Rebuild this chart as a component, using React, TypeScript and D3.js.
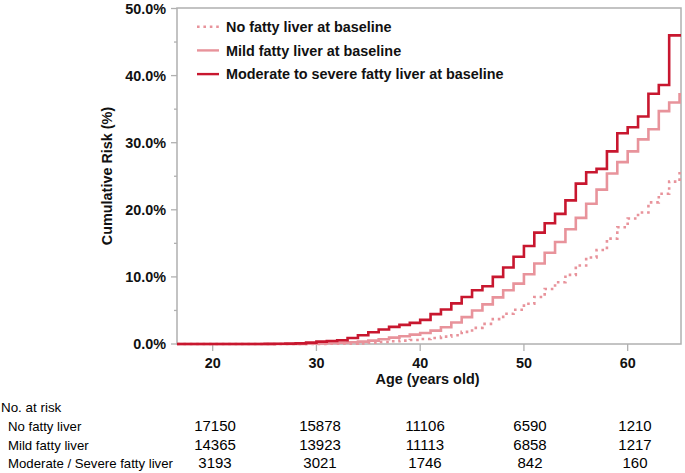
import React from "react";
import * as d3 from "d3";

const ages = [17,18,19,20,21,22,23,24,25,26,27,28,29,30,31,32,33,34,35,36,37,38,39,40,41,42,43,44,45,46,47,48,49,50,51,52,53,54,55,56,57,58,59,60,61,62,63,64,65];

const noFatty = [0,0,0,0,0,0,0,0,0,0,0,0,0,0.02,0.03,0.04,0.05,0.1,0.2,0.3,0.4,0.5,0.6,0.75,0.9,1.1,1.3,1.8,2.4,3.0,3.7,4.5,5.1,6.0,7.0,8.2,9.2,10.3,11.7,12.9,14.0,15.7,17.4,18.7,19.6,21.1,22.4,24.2,25.7];

const mildFatty = [0,0,0,0,0,0,0,0,0,0,0,0.02,0.05,0.1,0.15,0.2,0.25,0.35,0.5,0.7,0.95,1.15,1.4,1.65,2.0,2.5,3.2,4.0,5.0,5.9,6.95,8.0,9.0,10.4,12.0,13.6,15.2,17.1,18.8,20.9,23.0,25.4,27.1,28.7,30.5,32.0,34.7,36.0,37.2];

const modSevereFatty = [0,0,0,0,0,0,0,0,0.02,0.03,0.05,0.1,0.2,0.35,0.45,0.55,0.9,1.3,1.75,2.15,2.55,2.85,3.15,3.6,4.45,5.15,6.05,7.0,8.0,8.6,10.0,11.4,13.0,14.6,16.6,18.0,19.4,21.4,23.9,25.6,26.1,28.7,31.4,32.3,33.9,37.3,38.6,46.0,46.0];

const yTicks = [0, 10, 20, 30, 40, 50];
const yMinorTicks = [5, 15, 25, 35, 45];
const xTicks = [20, 30, 40, 50, 60];

const legendLabels = [
  "No fatty liver at baseline",
  "Mild fatty liver at baseline",
  "Moderate to severe fatty liver at baseline",
];

const riskTitle = "No. at risk";
const riskLabels = ["No fatty liver", "Mild fatty liver", "Moderate / Severe fatty liver"];
const riskNoFatty = [17150, 15878, 11106, 6590, 1210];
const riskMild = [14365, 13923, 11113, 6858, 1217];
const riskModSevere = [3193, 3021, 1746, 842, 160];

const W = 685;
const H = 473;
const left = 177, right = 681, top = 8.5, bottom = 344;

const DARK = "#c8172f";
const PINK = "#e8939b";
const AXIS = "#b0b0b0";
const BOLD = "'Liberation Sans', Arial, Helvetica, sans-serif";

export default function App() {
  const x = d3.scaleLinear().domain([16.56, 65.14]).range([left, right]);
  const y = d3.scaleLinear().domain([0, 50]).range([bottom, top]);

  const mk = (vals: number[]) => {
    const pts: [number, number][] = [[x.domain()[0], vals[0]]];
    ages.forEach((a, i) => pts.push([a, vals[i]]));
    pts.push([x.domain()[1], vals[vals.length - 1]]);
    return d3
      .line<[number, number]>()
      .x((d) => x(d[0]))
      .y((d) => y(d[1]))
      .curve(d3.curveStepAfter)(pts) as string;
  };

  const series = [
    { vals: noFatty, color: PINK, dash: "2.6,3.8", width: 2.6 },
    { vals: mildFatty, color: PINK, dash: undefined, width: 2.6 },
    { vals: modSevereFatty, color: DARK, dash: undefined, width: 2.6 },
  ];

  const col = d3.scalePoint<number>().domain([0, 1, 2, 3, 4]).range([215, 635]);
  const riskData = [riskNoFatty, riskMild, riskModSevere];
  const rowY = [431, 449.5, 467.5];

  return (
    <svg width={W} height={H} style={{ position: "absolute", left: 0, top: 0, background: "#fff" }}>
      <defs>
        <clipPath id="plotclip">
          <rect x={left} y={top - 2} width={right - left} height={bottom - top + 4} />
        </clipPath>
      </defs>
      <rect x={0} y={0} width={W} height={H} fill="#fff" />
      <rect x={left} y={top - 0.5} width={right - left} height={bottom - top + 0.5} fill="none" stroke={AXIS} strokeWidth={1.5} />
      {yTicks.map((t) => (
        <g key={"y" + t}>
          <line x1={left - 6} x2={left} y1={y(t)} y2={y(t)} stroke={AXIS} strokeWidth={1.3} />
          <text x={166} y={y(t)} dy="0.36em" textAnchor="end" fontFamily={BOLD} fontWeight="bold" fontSize={14.4} fill="#111">
            {t.toFixed(1) + "%"}
          </text>
        </g>
      ))}
      {yMinorTicks.map((t) => (
        <line key={"ym" + t} x1={left - 3} x2={left} y1={y(t)} y2={y(t)} stroke={AXIS} strokeWidth={1.3} />
      ))}
      {xTicks.map((t) => (
        <g key={"x" + t}>
          <line x1={x(t)} x2={x(t)} y1={bottom} y2={bottom + 7} stroke={AXIS} strokeWidth={1.3} />
          <text x={x(t)} y={368.3} textAnchor="middle" fontFamily={BOLD} fontWeight="bold" fontSize={14.4} fill="#111">
            {t}
          </text>
        </g>
      ))}
      <text x={427.5} y={384} textAnchor="middle" fontFamily={BOLD} fontWeight="bold" fontSize={14.4} fill="#111">
        Age (years old)
      </text>
      <text transform="translate(107,176) rotate(-90)" textAnchor="middle" dy="0.36em" fontFamily={BOLD} fontWeight="bold" fontSize={14.4} fill="#111">
        Cumulative Risk (%)
      </text>
      <g clipPath="url(#plotclip)">
        {series.map((s, i) => (
          <path key={i} d={mk(s.vals)} fill="none" stroke={s.color} strokeWidth={s.width} strokeDasharray={s.dash} strokeLinejoin="miter" />
        ))}
      </g>
      {legendLabels.map((l, i) => (
        <g key={"lg" + i} transform={`translate(0,${26.7 + i * 23.7})`}>
          <line x1={197} x2={219} y1={0} y2={0} stroke={series[i].color} strokeWidth={2.4} strokeDasharray={series[i].dash} />
          <text x={226} y={0} dy="0.36em" fontFamily={BOLD} fontWeight="bold" fontSize={14.4} fill="#111">
            {l}
          </text>
        </g>
      ))}
      <text x={1} y={412} fontFamily={BOLD} fontSize={13.4} fill="#000">
        {riskTitle}
      </text>
      {riskLabels.map((l, r) => (
        <g key={"r" + r}>
          <text x={8} y={rowY[r]} fontFamily={BOLD} fontSize={13.2} fill="#000">
            {l}
          </text>
          {riskData[r].map((v, c) => (
            <text key={c} x={col(c)} y={rowY[r]} textAnchor="middle" fontFamily={BOLD} fontSize={15} fill="#000">
              {v}
            </text>
          ))}
        </g>
      ))}
    </svg>
  );
}
